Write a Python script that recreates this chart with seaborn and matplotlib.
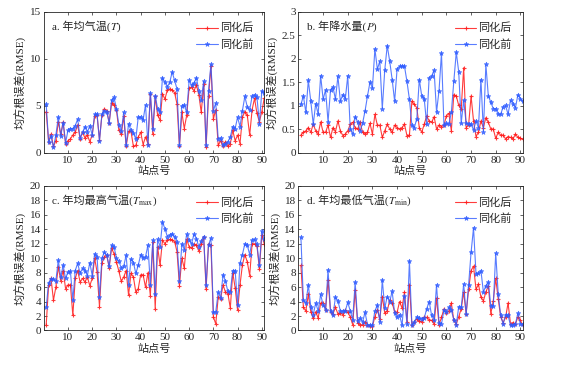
import matplotlib
matplotlib.use('Agg')
import numpy as np
import pandas as pd
import seaborn as sns
import matplotlib.pyplot as plt

sns.set_style('ticks')
plt.rcParams['font.family'] = ['Liberation Serif', 'Noto Sans CJK SC']
plt.rcParams['mathtext.fontset'] = 'stix'

stations = np.arange(1, 92)

# a. annual mean temperature
t_after = [4.4, 1.2, 2.0, 0.7, 1.3, 3.3, 2.0, 3.3, 1.0, 1.3,
           1.5, 1.9, 2.2, 3.0, 1.5, 2.2, 1.6, 1.9, 1.2, 1.9,
           3.9, 4.0, 1.4, 4.0, 4.7, 4.5, 3.2, 5.3, 5.1, 4.6,
           2.4, 2.0, 3.9, 0.7, 2.3, 2.3, 0.7, 0.8, 1.7, 2.2,
           0.9, 1.7, 1.0, 6.3, 2.0, 6.0, 4.0, 3.5, 6.3, 5.7,
           6.7, 6.8, 6.7, 6.4, 5.2, 0.7, 4.3, 2.6, 4.0, 6.9,
           7.0, 6.6, 7.2, 6.2, 4.3, 7.3, 0.6, 6.0, 9.2, 3.6,
           4.6, 0.8, 1.3, 0.7, 1.2, 0.7, 1.0, 2.4, 1.3, 1.9,
           1.0, 3.8, 4.4, 4.0, 1.9, 4.6, 5.8, 4.2, 3.3, 4.4,
           5.8]
t_before = [5.2, 1.2, 1.8, 0.6, 1.9, 3.8, 1.8, 3.2, 1.1, 2.4,
            2.6, 2.6, 2.9, 3.6, 1.6, 2.2, 2.8, 2.2, 2.9, 1.9,
            4.1, 4.1, 1.3, 4.1, 4.5, 4.4, 3.2, 5.6, 5.9, 4.7,
            3.0, 2.3, 4.3, 0.8, 3.1, 2.4, 2.1, 1.5, 3.8, 3.8,
            3.5, 5.1, 0.9, 6.4, 2.6, 6.1, 4.7, 4.3, 8.0, 7.5,
            7.0, 7.5, 8.6, 7.7, 6.8, 0.8, 5.0, 5.1, 4.3, 7.7,
            7.2, 7.4, 8.0, 6.6, 5.6, 7.6, 0.9, 6.6, 9.4, 4.5,
            5.3, 1.5, 1.6, 0.8, 1.0, 1.2, 1.7, 2.8, 2.6, 3.8,
            2.8, 4.5, 6.0, 4.9, 4.6, 6.0, 6.2, 5.9, 3.1, 6.6,
            6.4]

# b. annual precipitation
p_after = [0.38, 0.44, 0.47, 0.54, 0.44, 0.61, 0.47, 0.40, 0.66, 0.44,
           0.44, 0.59, 0.33, 0.54, 0.45, 0.68, 0.47, 0.37, 0.40, 0.47,
           0.61, 0.65, 0.54, 0.51, 0.65, 0.44, 0.40, 0.44, 0.63, 0.40,
           0.82, 0.59, 0.59, 0.33, 0.47, 0.61, 0.51, 0.44, 0.59, 0.54,
           0.51, 0.54, 0.61, 0.37, 0.38, 1.10, 1.03, 0.96, 0.54, 0.44,
           0.61, 0.79, 0.68, 0.65, 0.77, 0.51, 0.59, 0.56, 0.59, 0.79,
           0.84, 0.47, 1.24, 1.21, 1.01, 0.93, 1.81, 0.54, 0.59, 1.21,
           0.68, 0.35, 0.44, 0.68, 0.54, 0.75, 0.65, 0.51, 0.51, 0.31,
           0.44, 0.38, 0.38, 0.30, 0.35, 0.33, 0.30, 0.40, 0.33, 0.31,
           0.30]
p_before = [1.03, 1.21, 0.86, 1.54, 1.10, 0.61, 1.05, 0.82, 1.64, 1.14,
            1.34, 0.66, 1.34, 1.40, 1.14, 1.63, 1.10, 1.24, 1.15, 1.64,
            0.51, 0.40, 0.77, 0.66, 0.47, 0.63, 0.89, 1.21, 1.50, 1.38,
            2.21, 1.78, 1.95, 0.94, 1.76, 2.28, 1.95, 1.56, 1.10, 1.78,
            1.84, 1.84, 1.84, 1.52, 1.14, 0.59, 0.54, 0.73, 1.56, 1.21,
            1.15, 0.61, 1.60, 1.63, 1.76, 0.87, 1.32, 2.12, 0.59, 0.63,
            0.61, 0.86, 1.52, 2.14, 1.72, 0.63, 1.12, 0.63, 0.62, 0.61,
            0.49, 0.68, 0.54, 1.56, 0.45, 1.88, 1.21, 1.08, 0.94, 0.94,
            0.82, 0.82, 0.98, 1.01, 0.82, 1.12, 1.05, 0.96, 1.24, 1.15,
            1.10]

# c. annual mean maximum temperature
tmax_after = [0.7, 6.3, 7.2, 4.2, 6.0, 8.8, 6.9, 8.3, 5.8, 6.3,
              6.3, 2.1, 7.2, 8.3, 6.7, 7.2, 6.7, 7.4, 6.2, 7.2,
              10.0, 8.1, 3.3, 9.3, 10.2, 10.4, 8.7, 11.4, 10.6, 9.5,
              8.2, 6.8, 7.4, 8.3, 4.9, 7.9, 7.4, 5.3, 5.8, 7.7,
              7.7, 6.0, 8.0, 4.8, 12.2, 3.0, 11.6, 9.0, 12.5, 12.0,
              12.5, 12.6, 12.5, 12.3, 10.9, 6.2, 10.0, 8.6, 12.6, 11.6,
              11.4, 11.9, 11.8, 11.0, 11.9, 13.0, 5.7, 12.0, 11.8, 1.9,
              0.9, 4.6, 4.4, 6.3, 5.3, 5.1, 3.1, 8.0, 5.9, 2.8,
              6.3, 9.1, 10.5, 9.5, 7.6, 12.0, 12.0, 11.7, 8.5, 13.2,
              12.0]
tmax_before = [3.2, 6.6, 7.1, 7.1, 6.9, 9.7, 7.4, 9.0, 7.2, 8.1,
               8.2, 4.2, 8.3, 9.3, 7.9, 8.6, 8.3, 7.6, 9.4, 7.6,
               10.6, 10.2, 4.6, 10.0, 10.8, 10.4, 8.9, 11.8, 11.6, 10.0,
               9.6, 8.6, 8.9, 10.4, 6.3, 9.9, 9.4, 7.9, 9.0, 10.5,
               10.0, 10.2, 11.8, 6.3, 12.5, 5.0, 12.6, 11.6, 15.0, 14.1,
               13.0, 13.2, 13.4, 13.0, 12.3, 6.9, 12.0, 11.2, 13.3, 12.5,
               12.0, 13.3, 12.7, 11.6, 12.4, 13.0, 6.3, 11.8, 12.8, 2.5,
               2.6, 5.3, 4.5, 7.7, 6.8, 5.4, 5.3, 8.3, 8.3, 3.5,
               9.3, 10.5, 12.0, 11.8, 10.5, 12.5, 12.6, 11.9, 9.0, 13.7,
               12.6]

# d. annual mean minimum temperature
tmin_after = [9.0, 3.2, 2.7, 5.0, 2.6, 1.7, 2.6, 1.7, 3.8, 3.8,
              2.9, 7.0, 2.6, 2.3, 3.2, 2.3, 2.4, 2.2, 2.9, 2.5,
              1.9, 0.8, 5.6, 1.0, 0.8, 0.8, 1.2, 0.8, 0.6, 0.6,
              1.9, 2.9, 1.6, 4.7, 2.4, 2.7, 4.2, 3.8, 2.6, 2.5,
              4.0, 3.1, 5.3, 1.2, 6.3, 0.8, 1.2, 1.6, 1.3, 1.2,
              1.9, 1.8, 1.5, 1.4, 0.9, 4.5, 0.8, 1.8, 3.0, 2.4,
              2.7, 3.8, 1.4, 0.9, 1.9, 3.0, 5.3, 2.3, 5.7, 8.3,
              8.9, 5.7, 6.4, 4.6, 4.1, 5.3, 6.2, 2.3, 4.1, 7.2,
              4.4, 1.9, 1.1, 1.8, 3.8, 0.9, 1.1, 0.9, 1.9, 1.4,
              0.7]
tmin_before = [12.9, 4.2, 3.8, 6.3, 3.3, 2.2, 3.8, 2.7, 5.0, 3.5,
               2.9, 8.4, 2.7, 2.1, 4.6, 4.1, 2.7, 2.7, 2.7, 3.9,
               2.7, 1.5, 6.7, 1.3, 1.7, 1.2, 2.5, 0.8, 0.7, 0.7,
               2.7, 3.5, 1.2, 7.0, 3.1, 4.7, 4.0, 5.4, 2.4, 1.8,
               2.2, 0.7, 4.8, 0.9, 9.6, 0.7, 1.2, 1.9, 1.7, 1.6,
               1.7, 3.0, 4.0, 2.1, 1.5, 6.3, 1.1, 0.9, 2.8, 2.5,
               3.2, 2.8, 1.5, 0.8, 3.3, 3.2, 6.4, 2.3, 6.3, 10.8,
               14.2, 7.8, 7.9, 8.3, 5.3, 6.2, 6.7, 3.4, 3.4, 10.7,
               5.1, 2.1, 0.9, 2.2, 2.1, 0.7, 0.8, 0.9, 2.4, 0.9,
               0.9]

panels = [
    ('a. 年均气温(', '$T$)', t_after, t_before, 15, [0, 5, 10, 15], ['0', '5', '10', '15']),
    ('b. 年降水量(', '$P$)', p_after, p_before, 3, [0, 0.5, 1, 1.5, 2, 2.5, 3],
     ['0', '0.5', '1', '1.5', '2', '2.5', '3']),
    ('c. 年均最高气温(', '$T_{\\mathrm{max}}$)', tmax_after, tmax_before, 20,
     list(range(0, 21, 2)), [str(v) for v in range(0, 21, 2)]),
    ('d. 年均最低气温(', '$T_{\\mathrm{min}}$)', tmin_after, tmin_before, 20,
     list(range(0, 21, 2)), [str(v) for v in range(0, 21, 2)]),
]

boxes = [[0.078, 0.582, 0.393, 0.386],
         [0.532, 0.582, 0.400, 0.386],
         [0.078, 0.097, 0.393, 0.395],
         [0.532, 0.097, 0.400, 0.395]]

red = '#ff1a1a'
blue = '#2f5cff'

fig = plt.figure(figsize=(5.61, 3.66), dpi=100)
for (prefix, math, after, before, ymax, yt, ytl), box in zip(panels, boxes):
    ax = fig.add_axes(box)
    df = pd.DataFrame({'station': stations, 'after': after, 'before': before})
    sns.lineplot(data=df, x='station', y='after', ax=ax, color=red, linewidth=0.8,
                 marker='+', markersize=3.5, markeredgecolor=red, markeredgewidth=0.8,
                 alpha=0.85, label='同化后')
    sns.lineplot(data=df, x='station', y='before', ax=ax, color=blue, linewidth=0.8,
                 marker='*', markersize=3.5, markeredgecolor=blue, markeredgewidth=0.5,
                 alpha=0.8, label='同化前')
    ax.set_xlim(0, 91)
    ax.set_ylim(0, ymax)
    ax.set_xticks(range(10, 91, 10))
    ax.set_yticks(yt)
    ax.set_yticklabels(ytl)
    ax.tick_params(direction='in', top=True, right=True, length=2.5, width=0.5,
                   labelsize=8, pad=2)
    for s in ax.spines.values():
        s.set_linewidth(0.6)
    ax.set_xlabel('站点号', fontsize=8, labelpad=1)
    ax.set_ylabel('均方根误差(RMSE)', fontsize=8, labelpad=2)
    # panel title: chinese part as plain text, symbol part as mathtext after it
    t1 = ax.text(0.036, 0.875, prefix, transform=ax.transAxes, fontsize=8,
                 va='baseline', ha='left')
    ax.annotate(math, xy=(1, 0.875), xycoords=(t1, 'axes fraction'), fontsize=8,
                va='baseline', ha='left')
    ax.legend(loc='upper right', frameon=False, fontsize=8, handlelength=1.9,
              handletextpad=0.2, labelspacing=0.5, borderaxespad=0.6)

fig.savefig('out.png', dpi=100)
